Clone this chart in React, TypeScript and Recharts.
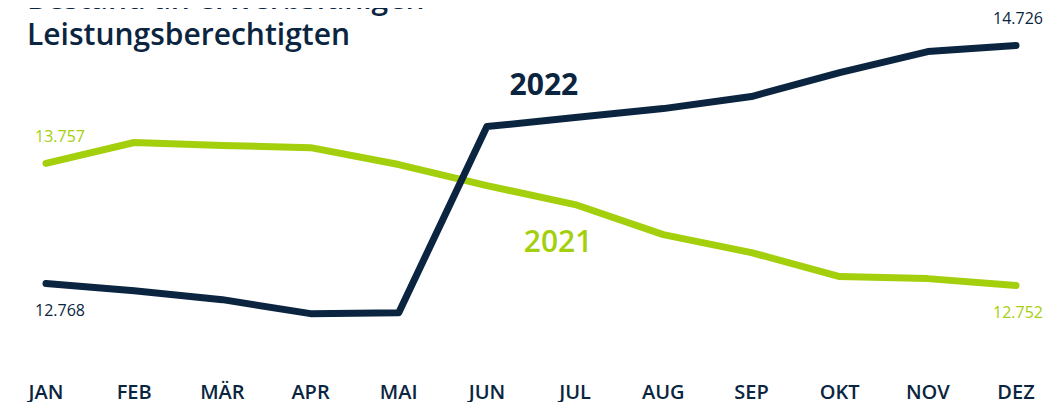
import { LineChart, Line, XAxis, YAxis, LabelList } from "recharts";

// Bestand an erwerbsfähigen Leistungsberechtigten, 2021 vs. 2022
const months = ["JAN", "FEB", "MÄR", "APR", "MAI", "JUN", "JUL", "AUG", "SEP", "OKT", "NOV", "DEZ"];
const values2021 = [13757, 13928, 13903, 13886, 13747, 13574, 13418, 13171, 13023, 12826, 12809, 12752];
const values2022 = [12768, 12710, 12636, 12521, 12529, 14059, 14133, 14207, 14306, 14503, 14676, 14726];

const NAVY = "#0b2540";
const GREEN = "#a4cf0c";
const FONT = "'Open Sans', 'Noto Sans', sans-serif";

const data = months.map((m, i) => ({ month: m, y2021: values2021[i], y2022: values2022[i] }));
const fmt = (v: number) => new Intl.NumberFormat("de-DE").format(v);

// end point values: first and last month, above or below the line
function endLabel(color: string, firstAbove: boolean, lastAbove: boolean) {
  return (props: any) => {
    const { x, y, value, index } = props;
    const last = months.length - 1;
    if (index !== 0 && index !== last) return null;
    const above = index === 0 ? firstAbove : lastAbove;
    const dx = index === 0 ? 14 : 2;
    return (
      <text
        x={x + dx}
        y={above ? y - 21 : y + 32}
        textAnchor="middle"
        fill={color}
        fontSize={16}
        fontFamily={FONT}
      >
        {fmt(value)}
      </text>
    );
  };
}

// series name placed next to one point of the line
function seriesName(name: string, color: string, at: number, dx: number, dy: number, weight: number) {
  return (props: any) => {
    const { x, y, index } = props;
    if (index !== at) return null;
    return (
      <text x={x + dx} y={y + dy} textAnchor="middle" fill={color} fontSize={30} fontWeight={weight} fontFamily={FONT}>
        {name}
      </text>
    );
  };
}

const MonthTick = (props: any) => {
  const { x, y, payload } = props;
  return (
    <text x={x} y={y + 22} textAnchor="middle" fill={NAVY} fontSize={20} fontWeight={600} fontFamily={FONT}>
      {payload.value}
    </text>
  );
};

export default function App() {
  return (
    <div style={{ position: "relative", width: 1059, height: 410, margin: -8, overflow: "hidden", background: "#fff" }}>
      <LineChart width={1059} height={410} data={data} margin={{ top: 0, right: 43, bottom: 0, left: 46 }}>
        <XAxis
          dataKey="month"
          axisLine={false}
          tickLine={false}
          tickSize={0}
          tickMargin={0}
          height={33}
          interval={0}
          tick={<MonthTick />}
        />
        <YAxis hide type="number" domain={[12000, 15100]} />
        <Line
          type="linear"
          dataKey="y2021"
          stroke={GREEN}
          strokeWidth={7}
          strokeLinecap="round"
          strokeLinejoin="round"
          dot={false}
          isAnimationActive={false}
        >
          <LabelList dataKey="y2021" content={endLabel(GREEN, true, false)} />
          <LabelList dataKey="y2021" content={seriesName("2021", GREEN, 6, -17, 47, 600)} />
        </Line>
        <Line
          type="linear"
          dataKey="y2022"
          stroke={NAVY}
          strokeWidth={7}
          strokeLinecap="round"
          strokeLinejoin="round"
          dot={false}
          isAnimationActive={false}
        >
          <LabelList dataKey="y2022" content={endLabel(NAVY, false, true)} />
          <LabelList dataKey="y2022" content={seriesName("2022", NAVY, 5, 57, -32, 700)} />
        </Line>
      </LineChart>
      <div
        style={{
          position: "absolute",
          zIndex: 1,
          left: 27,
          top: -20,
          fontFamily: FONT,
          fontSize: 30,
          fontWeight: 600,
          lineHeight: "36px",
          color: NAVY,
          whiteSpace: "nowrap",
        }}
      >
        Bestand an erwerbsfähigen
        <br />
        Leistungsberechtigten
      </div>
    </div>
  );
}
